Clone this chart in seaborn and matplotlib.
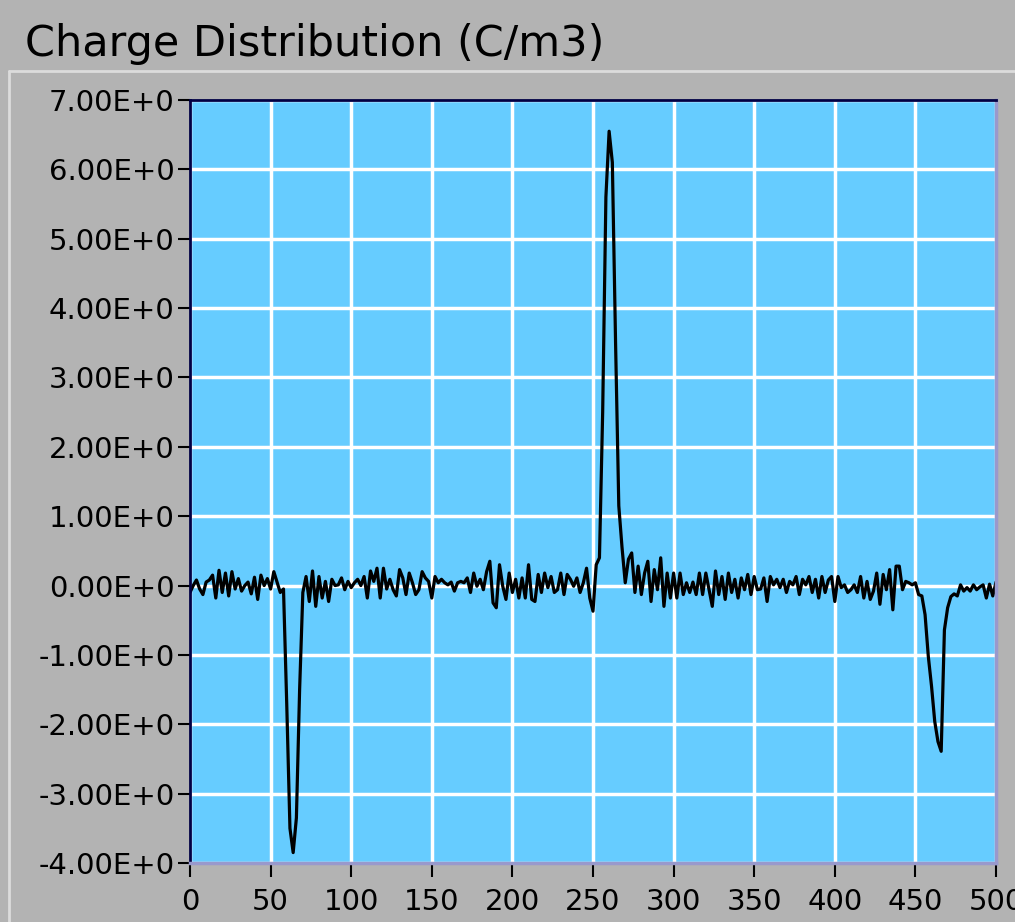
import numpy as np
import pandas as pd
import matplotlib
matplotlib.use("Agg")
import matplotlib.pyplot as plt
from matplotlib.lines import Line2D
from matplotlib import font_manager
import seaborn as sns

# ---- data ----
x_start, x_stop, x_step = 0, 500, 2
positions = np.arange(x_start, x_stop + 1, x_step)

charge_0_58 = [-0.10, 0.00, 0.08, -0.05, -0.13, 0.05, 0.08, 0.15, -0.18, 0.22,
               -0.10, 0.18, -0.15, 0.20, -0.05, 0.10, -0.08, 0.00, 0.05, -0.12,
               0.12, -0.20, 0.15, 0.00, 0.10, -0.05, 0.20, 0.05, -0.10, -0.05]
charge_60_70 = [-1.70, -3.50, -3.85, -3.35, -1.50, -0.10]
charge_72_116 = [0.13, -0.23, 0.21, -0.30, 0.13, -0.18, 0.06, -0.23, 0.09, 0.00,
                 0.01, 0.11, -0.06, 0.06, -0.03, 0.04, 0.09, 0.00, 0.13, -0.18,
                 0.21, 0.06, 0.25]
charge_118_250 = [-0.18, 0.25, -0.05, 0.09, -0.06, -0.15, 0.23, 0.11, -0.13, 0.18,
                  0.04, -0.13, -0.06, 0.20, 0.11, 0.06, -0.18, 0.13, 0.04, 0.09,
                  0.04, 0.01, 0.05, -0.08, 0.04, 0.06, 0.04, 0.11, -0.10, 0.18,
                  -0.01, 0.09, -0.06, 0.20, 0.35, -0.25, -0.32, 0.30, -0.01, -0.20,
                  0.18, -0.10, 0.09, -0.18, 0.11, -0.18, 0.30, -0.20, -0.23, 0.16,
                  -0.10, 0.18, -0.03, 0.13, -0.10, -0.06, 0.18, -0.13, 0.16, 0.09,
                  -0.01, 0.11, -0.10, 0.04, 0.25, -0.18, -0.37]
charge_252_270 = [0.30, 0.40, 2.50, 5.60, 6.55, 6.10, 3.50, 1.15, 0.55, 0.04]
charge_272_452 = [0.38, 0.47, -0.10, 0.28, -0.13, 0.18, 0.35, -0.23, 0.23, -0.06,
                  0.40, -0.30, 0.18, -0.18, 0.18, -0.18, 0.18, -0.13, 0.04, -0.10,
                  0.05, -0.13, 0.18, -0.13, 0.18, -0.06, -0.30, 0.21, -0.13, 0.13,
                  -0.20, 0.18, -0.10, 0.09, -0.18, 0.11, -0.06, 0.16, -0.13, 0.13,
                  -0.06, -0.05, 0.11, -0.23, 0.13, 0.01, 0.09, -0.03, 0.09, -0.10,
                  0.06, 0.01, 0.13, -0.13, 0.09, 0.01, 0.13, -0.10, 0.09, -0.18,
                  0.13, -0.10, 0.08, 0.13, -0.23, 0.13, -0.03, 0.01, -0.10, -0.06,
                  0.01, -0.10, 0.13, -0.18, 0.06, -0.20, -0.08, 0.18, -0.27, 0.16,
                  -0.06, 0.23, -0.35, 0.28, 0.28, -0.06, 0.06, 0.04, 0.01, 0.04,
                  -0.13]
charge_454_500 = [-0.15, -0.42, -1.02, -1.45, -1.96, -2.25, -2.39, -0.64, -0.32, -0.16,
                  -0.12, -0.15, 0.01, -0.08, -0.03, -0.08, 0.01, -0.06, -0.02, 0.01,
                  -0.18, 0.02, -0.15, 0.05]

charge = (charge_0_58 + charge_60_70 + charge_72_116 + charge_118_250 +
          charge_252_270 + charge_272_452 + charge_454_500)

x_ticks = [0, 50, 100, 150, 200, 250, 300, 350, 400, 450, 500]
y_ticks = [7, 6, 5, 4, 3, 2, 1, 0, -1, -2, -3, -4]
y_labels = ["7.00E+0", "6.00E+0", "5.00E+0", "4.00E+0", "3.00E+0", "2.00E+0",
            "1.00E+0", "0.00E+0", "-1.00E+0", "-2.00E+0", "-3.00E+0", "-4.00E+0"]
title = "Charge Distribution (C/m3)"

df = pd.DataFrame({"position": positions[:len(charge)], "charge": charge})

# ---- style ----
sns.set_theme(style="white")
plt.rcParams["font.family"] = ["DejaVu Sans"]

available = {f.name for f in font_manager.fontManager.ttflist}
if "Liberation Sans Narrow" in available:
    title_font, title_size = "Liberation Sans Narrow", 36
elif "DejaVu Sans Condensed" in available:
    title_font, title_size = "DejaVu Sans Condensed", 32
else:
    title_font, title_size = "DejaVu Sans", 31

W, H = 1015, 922
fig = plt.figure(figsize=(W / 100, H / 100), dpi=100, facecolor="#B3B3B3")

ax = fig.add_axes([190 / W, 1 - 863 / H, (996 - 190) / W, (863 - 100) / H])
ax.set_facecolor("#66CCFF")

sns.lineplot(data=df, x="position", y="charge", ax=ax, color="black",
             linewidth=2.3, estimator=None, sort=False)

ax.set_xlim(0, 500)
ax.set_ylim(-4, 7)
ax.set_xticks(x_ticks)
ax.set_xticklabels([str(t) for t in x_ticks])
ax.set_yticks(y_ticks)
ax.set_yticklabels(y_labels)
ax.set_xlabel("")
ax.set_ylabel("")

ax.grid(True, color="white", linewidth=2.5)
ax.set_axisbelow(True)

ax.tick_params(axis="y", direction="out", length=9, width=1.5, color="black",
               labelsize=21, pad=2, labelcolor="black")
ax.tick_params(axis="x", direction="out", length=10, width=1.5, color="black",
               labelsize=21, pad=8, labelcolor="black")
ax.xaxis.set_ticks_position("bottom")
ax.yaxis.set_ticks_position("left")

for side in ["left", "top"]:
    ax.spines[side].set_color("#000044")
    ax.spines[side].set_linewidth(2)
for side in ["right", "bottom"]:
    ax.spines[side].set_color("#9999CC")
    ax.spines[side].set_linewidth(2.5)
for s in ax.spines.values():
    s.set_visible(True)

# panel frame lines
fig.add_artist(Line2D([9 / W, 1], [1 - 71 / H, 1 - 71 / H], transform=fig.transFigure,
                      color="#DCDCDC", linewidth=2))
fig.add_artist(Line2D([9 / W, 9 / W], [0, 1 - 71 / H], transform=fig.transFigure,
                      color="#DCDCDC", linewidth=2))

fig.text(25 / W, 1 - 44 / H, title, fontsize=title_size, ha="left", va="center",
         color="black", family=[title_font, "DejaVu Sans"])

fig.savefig("out.png", dpi=100, facecolor=fig.get_facecolor())
